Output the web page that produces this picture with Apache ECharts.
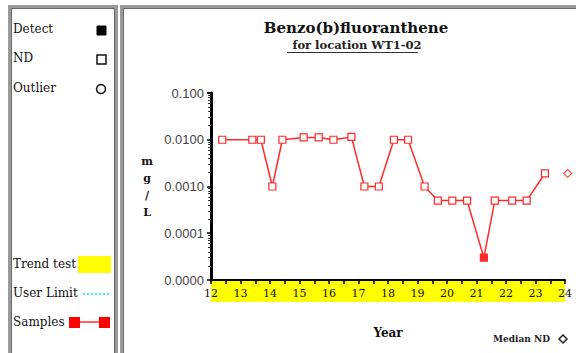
<!DOCTYPE html>
<html><head><meta charset="utf-8">
<script src="https://cdn.jsdelivr.net/npm/echarts@6/dist/echarts.min.js"></script>
<style>
html,body{margin:0;padding:0;background:#fff;width:576px;height:353px;overflow:hidden;}
#c{position:absolute;left:0;top:0;width:576px;height:353px;}
.box{position:absolute;border:3px solid #9a9a9a;outline:1px solid #6a6a6a;outline-offset:-4px;box-sizing:border-box;}
</style></head>
<body>
<div class="box" style="left:8px;top:5px;width:110px;height:370px;"></div>
<div class="box" style="left:120px;top:5px;width:470px;height:370px;"></div>
<div id="c"></div>
<script>
// Sample dates (decimal years) and concentrations (mg/L)
const years = [12.38,13.40,13.69,14.08,14.42,15.14,15.65,16.15,16.76,17.20,17.69,18.20,18.68,19.24,19.69,20.18,20.68,21.25,21.62,22.21,22.70,23.32];
const values = [0.0100,0.0100,0.0100,0.0010,0.0100,0.0112,0.0112,0.0100,0.0115,0.0010,0.0010,0.0100,0.0100,0.0010,0.0005,0.0005,0.0005,0.00003,0.0005,0.0005,0.0005,0.0019];
const detect = [false,false,false,false,false,false,false,false,false,false,false,false,false,false,false,false,false,true,false,false,false,false];
const medianND = [[24.09, 0.0019]];
const yTickValues = [0.1,0.01,0.001,0.0001,0.00001];
const yTickLabels = ['0.100','0.0100','0.0010','0.0001','0.0000'];
const xTickLabels = ['12','13','14','15','16','17','18','19','20','21','22','23','24'];

const RED = '#ff2a2a';
const serif = '"DejaVu Serif","Liberation Serif",serif';
const sans = '"Liberation Sans","DejaVu Sans",sans-serif';

const chart = echarts.init(document.getElementById('c'), null, {renderer:'svg'});
const sampleData = years.map((y,i)=>({
  value:[y, values[i]],
  itemStyle: detect[i] ? {color:RED, borderColor:RED} : {color:'#fff', borderColor:RED}
}));

function yLabel(v){
  for(let i=0;i<yTickValues.length;i++){
    if(Math.abs(Math.log10(v)-Math.log10(yTickValues[i]))<1e-6) return yTickLabels[i];
  }
  return '';
}

chart.setOption({
  animation:false,
  title:[
    {text:'Benzo(b)fluoranthene', left:351, top:15, textAlign:'center',
     textStyle:{fontFamily:serif,fontSize:15,fontWeight:'bold',color:'#111'}},
    {text:'for location WT1-02', left:352, top:34, textAlign:'center',
     textStyle:{fontFamily:serif,fontSize:11.5,fontWeight:'bold',color:'#222'}}
  ],
  grid:{left:211,right:11,top:93,bottom:73,containLabel:false},
  xAxis:{
    type:'value',min:12,max:24,interval:1,
    name:'Year',nameLocation:'middle',nameGap:47,
    nameTextStyle:{fontFamily:serif,fontSize:12,fontWeight:'bold',color:'#111'},
    axisLine:{lineStyle:{color:'#000',width:2}},
    axisTick:{show:true,inside:false,length:4,lineStyle:{color:'#000',width:1.5}},
    minorTick:{show:true,splitNumber:2,length:4,lineStyle:{color:'#000',width:1.5}},
    splitLine:{show:false},
    axisLabel:{margin:8,fontFamily:serif,fontSize:11,color:'#111',
      formatter:(v)=>{const i=Math.round(v)-12; return xTickLabels[i]!==undefined?xTickLabels[i]:'';}}
  },
  yAxis:{
    type:'log',logBase:10,min:0.00001,max:0.1,
    name:'m\ng\n/\nL',nameLocation:'middle',nameRotate:0,nameGap:64,
    nameTextStyle:{fontFamily:serif,fontSize:11,fontWeight:'bold',color:'#111',lineHeight:17,align:'center'},
    axisLine:{show:true,lineStyle:{color:'#000',width:3}},
    axisTick:{show:true,length:4,lineStyle:{color:'#000',width:1.5}},
    minorTick:{show:true,splitNumber:9,length:3,lineStyle:{color:'#333',width:1}},
    splitLine:{show:false},
    axisLabel:{margin:7,fontFamily:sans,fontSize:13,color:'#444',formatter:yLabel}
  },
  graphic:[
    {type:'rect',z:-1,shape:{x:211,y:280,width:354,height:22},style:{fill:'#ffff00'},silent:true},
    // subtitle underline
    {type:'line',shape:{x1:287,y1:52.5,x2:418,y2:52.5},style:{stroke:'#333',lineWidth:1}},
    // legend panel
    {type:'text',left:13,top:23,style:{text:'Detect',font:'12px '+serif,fill:'#111'}},
    {type:'rect',shape:{x:97,y:26,width:9,height:9},style:{fill:'#000',stroke:'#000'}},
    {type:'text',left:13,top:52,style:{text:'ND',font:'12px '+serif,fill:'#111'}},
    {type:'rect',shape:{x:97,y:55,width:9,height:9},style:{fill:'#fff',stroke:'#111',lineWidth:1.5}},
    {type:'text',left:13,top:82,style:{text:'Outlier',font:'12px '+serif,fill:'#111'}},
    {type:'circle',shape:{cx:101,cy:89,r:4.5},style:{fill:'#fff',stroke:'#111',lineWidth:1.5}},
    {type:'text',left:13,top:258,style:{text:'Trend test',font:'12px '+serif,fill:'#111'}},
    {type:'rect',shape:{x:78,y:256,width:33,height:17},style:{fill:'#ffff00'}},
    {type:'text',left:13,top:287,style:{text:'User Limit',font:'12px '+serif,fill:'#111'}},
    {type:'line',shape:{x1:83,y1:294,x2:111,y2:294},style:{stroke:'#00e5ff',lineWidth:1.5,lineDash:[2,2]}},
    {type:'text',left:13,top:316,style:{text:'Samples',font:'12px '+serif,fill:'#111'}},
    {type:'line',shape:{x1:75,y1:322,x2:106,y2:322},style:{stroke:RED,lineWidth:1.5}},
    {type:'rect',shape:{x:69,y:317,width:11,height:11},style:{fill:'#ff0000'}},
    {type:'rect',shape:{x:99,y:317,width:11,height:11},style:{fill:'#ff0000'}},
    // median ND note
    {type:'text',left:493,top:334,style:{text:'Median ND',font:'bold 9px '+serif,fill:'#222'}},
    {type:'polygon',shape:{points:[[563,335],[567,339],[563,343],[559,339]]},style:{fill:'#fff',stroke:'#222',lineWidth:1.5}}
  ],
  series:[
    {type:'line',data:sampleData,symbol:'rect',symbolSize:7,showAllSymbol:true,
     lineStyle:{color:RED,width:1.5},itemStyle:{borderWidth:1.2},z:3},
    {type:'scatter',data:medianND,symbol:'diamond',symbolSize:8,clip:false,
     itemStyle:{color:'#fff',borderColor:RED,borderWidth:1.2}}
  ]
});
</script>
</body></html>
